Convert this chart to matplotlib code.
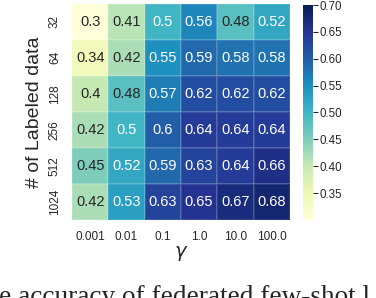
import numpy as np
import matplotlib.pyplot as plt
import seaborn as sns

gammas = ['0.001', '0.01', '0.1', '1.0', '10.0', '100.0']
n_labeled = ['32', '64', '128', '256', '512', '1024']
acc = np.array([
    [0.30, 0.41, 0.50, 0.56, 0.48, 0.52],
    [0.34, 0.42, 0.55, 0.59, 0.58, 0.58],
    [0.40, 0.48, 0.57, 0.62, 0.62, 0.62],
    [0.42, 0.50, 0.60, 0.64, 0.64, 0.64],
    [0.45, 0.52, 0.59, 0.63, 0.64, 0.66],
    [0.42, 0.53, 0.63, 0.65, 0.67, 0.68],
])

sns.set_style('white')
plt.rcParams['font.family'] = ['Liberation Sans', 'DejaVu Sans']

fig = plt.figure(figsize=(3.76, 2.98), dpi=100)
ax = fig.add_axes([0.1915, 0.262, 0.5795, 0.726])
cax = fig.add_axes([0.806, 0.262, 0.026, 0.721])

sns.heatmap(acc, ax=ax, cbar_ax=cax, cmap='YlGnBu', vmin=0.3, vmax=0.7,
            annot=True, fmt='.2g', annot_kws={'fontsize': 10.5},
            xticklabels=gammas, yticklabels=n_labeled,
            linewidths=0.3, linecolor=(1, 1, 1, 0.12))

ax.tick_params(axis='both', length=0, labelsize=8.5, colors='#262626', pad=8)
ax.set_yticklabels(n_labeled, rotation=90, va='center')
ax.set_xticklabels(gammas, rotation=0)
ax.set_xlabel(r'$\gamma$', fontsize=14, labelpad=1)
ax.set_ylabel('# of Labeled data', fontsize=14, labelpad=4, color='#262626')

cax.tick_params(labelsize=8.3, length=3.5, width=0.8, colors='#262626', pad=1)
cax.set_yticks([0.35, 0.40, 0.45, 0.50, 0.55, 0.60, 0.65, 0.70])
cax.set_yticklabels(['0.35', '0.40', '0.45', '0.50', '0.55', '0.60', '0.65', '0.70'])

fig.text(-0.003, -0.02, 'e accuracy of federated few-shot l',
         family='Liberation Serif', fontsize=19.6, ha='left', va='baseline')

fig.savefig('out.png', dpi=100)
